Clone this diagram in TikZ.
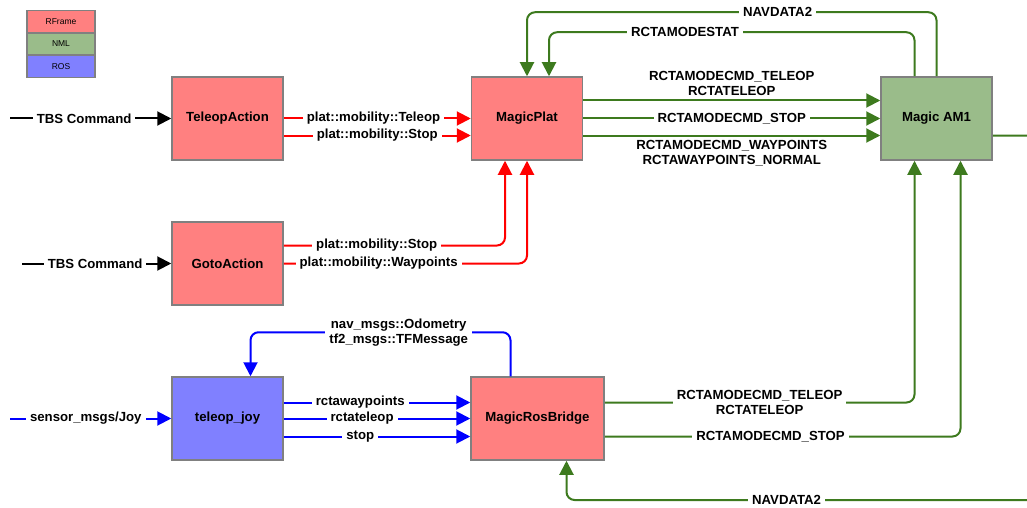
\documentclass[tikz,border=0pt]{standalone}
\usepackage{fontspec}
\setmainfont{Liberation Sans}
\usepackage{tikz}
\usetikzlibrary{arrows.meta}
\definecolor{rframe}{RGB}{255,128,128}
\definecolor{nml}{RGB}{154,188,138}
\definecolor{ros}{RGB}{128,128,255}
\definecolor{dgreen}{RGB}{61,122,30}
\definecolor{bgrey}{RGB}{128,128,128}

\begin{document}
\begin{tikzpicture}[x=1pt,y=-1pt,>={Triangle[length=14pt,width=14pt]},line width=2pt,rounded corners=8pt,font=\fontsize{13.2}{15}\selectfont\bfseries]
      \tikzstyle{every node}=[rounded corners=0pt]
      \tikzstyle{box}=[draw=bgrey,line width=1.5pt,text=black,minimum width=111pt,minimum height=83pt,inner sep=2pt]
      \tikzstyle{legend}=[draw=bgrey,line width=1.5pt,minimum width=68pt,minimum height=22pt,inner sep=0pt,font=\fontsize{8.5}{9}\selectfont]
      \tikzstyle{lbl}=[fill=white,inner xsep=4pt,inner ysep=1pt,text=black,align=center,font=\fontsize{13.2}{14.8}\selectfont\bfseries]
      \tikzstyle{blk}=[->,black]
      \tikzstyle{rfl}=[->,red]
      \tikzstyle{nfl}=[->,dgreen]
      \tikzstyle{rfl2}=[->,blue]
      \useasboundingbox (0,0) rectangle (1027,508);
      % legend
      \node [legend,fill=rframe] (lrf) at (61,21.5) {RFrame};
      \node [legend,fill=nml] (lnml) at (61,44) {NML};
      \node [legend,fill=ros] (lros) at (61,66.5) {ROS};
      % boxes
      \node [box,fill=rframe] (teleop) at (227.5,118.5) {TeleopAction};
      \node [box,fill=rframe] (goto) at (227.5,263.5) {GotoAction};
      \node [box,fill=rframe] (plat) at (527,118.5) {MagicPlat};
      \node [box,fill=nml] (am1) at (936.5,118.5) {Magic AM1};
      \node [box,fill=ros] (tjoy) at (227.5,418.5) {teleop\_joy};
      \node [box,fill=rframe,minimum width=133pt] (mrb) at (537.5,418.5) {MagicRosBridge};
      \coordinate (tbs1) at (10,118.5);
      \coordinate (tbs2) at (22,263.5);
      \coordinate (joy) at (10,418.5);
      \coordinate (rgt) at (1045,500);
      % inputs
      \draw [blk] (tbs1) -- node[lbl,pos=0.46] {TBS Command} (teleop);
      \draw [blk] (tbs2) -- node[lbl,pos=0.49] {TBS Command} (goto);
      \draw [rfl2] (joy) -- node[lbl,pos=0.47] {sensor\_msgs/Joy} (tjoy);
      % rframe
      \draw [rfl] (teleop.east) -- node[lbl,pos=0.48] {plat::mobility::Teleop} (plat.west);
      \draw [rfl] ([yshift=-17pt]teleop.east) -- node[lbl,pos=0.5] {plat::mobility::Stop} ([yshift=-17pt]plat.west);
      \draw [rfl] ([yshift=18pt]goto.east) -| node[lbl,pos=0.21] {plat::mobility::Stop} ([xshift=-22pt]plat.south);
      \draw [rfl] (goto.east) -| node[lbl,pos=0.195] {plat::mobility::Waypoints} (plat.south);
      % nml
      \draw [nfl] ([yshift=18pt]plat.east) -- node[lbl,above,fill=none,inner sep=4pt] {RCTAMODECMD\_TELEOP\\RCTATELEOP} ([yshift=18pt]am1.west);
      \draw [nfl] (plat.east) -- node[lbl] {RCTAMODECMD\_STOP} (am1.west);
      \draw [nfl] ([yshift=-17pt]plat.east) -- node[lbl,below,fill=none,inner sep=4pt] {RCTAMODECMD\_WAYPOINTS\\RCTAWAYPOINTS\_NORMAL} ([yshift=-17pt]am1.west);
      \draw [nfl] (am1.north) -- ++(0,-64) -| node[lbl,pos=0.194] {NAVDATA2} (plat.north);
      \draw [nfl] ([xshift=-22pt]am1.north) -- ++(0,-44) -| node[lbl,pos=0.314] {RCTAMODESTAT} ([xshift=22pt]plat.north);
      \draw [nfl] ([yshift=16pt]mrb.east) -| node[lbl,pos=0.25] {RCTAMODECMD\_TELEOP\\RCTATELEOP} ([xshift=-22pt]am1.south);
      \draw [nfl] ([yshift=-18pt]mrb.east) -| node[lbl,pos=0.233] {RCTAMODECMD\_STOP} ([xshift=24pt]am1.south);
      \draw [nfl] ([yshift=-17pt]am1.east) -| (rgt) -| node[lbl,pos=0.27,inner ysep=0pt] {NAVDATA2} ([xshift=29pt]mrb.south);
      % ros
      \draw [rfl2] ([yshift=16pt]tjoy.east) -- node[lbl,pos=0.41] {rctawaypoints} ([yshift=16pt]mrb.west);
      \draw [rfl2] (tjoy.east) -- node[lbl,pos=0.42] {rctateleop} (mrb.west);
      \draw [rfl2] ([yshift=-18pt]tjoy.east) -- node[lbl,pos=0.41] {stop} ([yshift=-18pt]mrb.west);
      \draw [rfl2] ([xshift=-27pt]mrb.north) -- ++(0,-44) -| node[lbl,pos=0.215] {nav\_msgs::Odometry\\tf2\_msgs::TFMessage} ([xshift=23pt]tjoy.north);
  \end{tikzpicture}
\end{document}
